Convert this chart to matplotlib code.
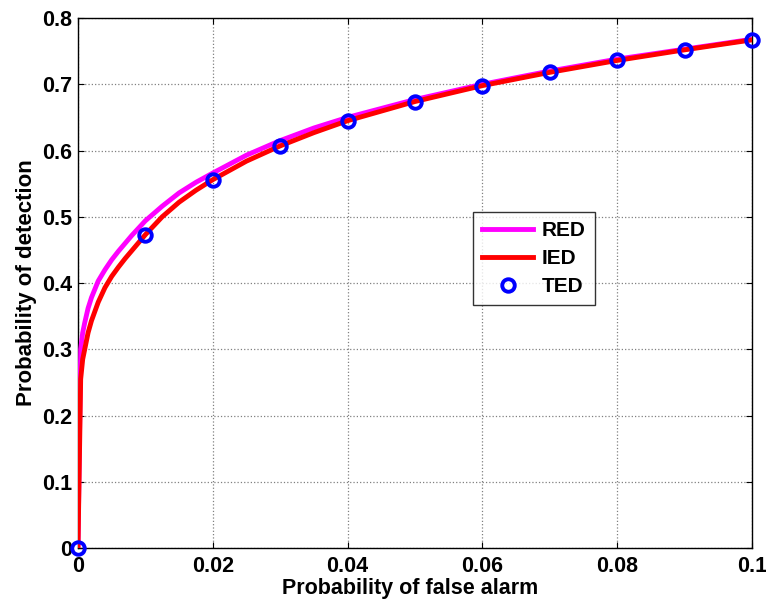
import matplotlib.pyplot as plt

# probability of false alarm
pfa = [0, 0.0004, 0.0007, 0.001, 0.0015, 0.002, 0.003, 0.004, 0.005, 0.006,
       0.007, 0.008, 0.01, 0.0125, 0.015, 0.0175, 0.02, 0.025, 0.03, 0.035,
       0.04, 0.05, 0.06, 0.07, 0.08, 0.09, 0.1]
# detection prob, RED and IED curves
pd_red = [0, 0.30, 0.325, 0.34, 0.362, 0.378, 0.403, 0.42, 0.435, 0.448,
          0.46, 0.472, 0.494, 0.516, 0.536, 0.552, 0.566, 0.593, 0.615, 0.634,
          0.650, 0.677, 0.700, 0.720, 0.738, 0.753, 0.768]
pd_ied = [0, 0.255, 0.285, 0.30, 0.325, 0.343, 0.371, 0.393, 0.41, 0.424,
          0.437, 0.449, 0.473, 0.50, 0.522, 0.54, 0.556, 0.584, 0.607, 0.627,
          0.645, 0.674, 0.698, 0.718, 0.736, 0.752, 0.767]
# TED markers
pfa_ted = [0, 0.01, 0.02, 0.03, 0.04, 0.05, 0.06, 0.07, 0.08, 0.09, 0.1]
pd_ted = [0, 0.473, 0.556, 0.607, 0.645, 0.674, 0.698, 0.718, 0.736, 0.752, 0.767]

plt.rcParams['font.family'] = ['Liberation Sans', 'DejaVu Sans']
plt.rcParams['font.weight'] = 'bold'

fig = plt.figure(figsize=(7.66, 6.05), dpi=100)
ax = fig.add_axes([0.1018, 0.0942, 0.88, 0.876])

ax.plot(pfa, pd_red, color='#ff00ff', lw=3.5, label='RED', zorder=3)
ax.plot(pfa, pd_ied, color='#ff0000', lw=3.5, label='IED', zorder=4)
ax.plot(pfa_ted, pd_ted, 'o', ms=9, mfc='none', mec='#0000ff', mew=2.8,
        label='TED', zorder=5, clip_on=False)

ax.set_xlim(0, 0.1)
ax.set_ylim(0, 0.8)
ax.set_xticks([0, 0.02, 0.04, 0.06, 0.08, 0.1])
ax.set_xticklabels(['0', '0.02', '0.04', '0.06', '0.08', '0.1'])
ax.set_yticks([i / 10 for i in range(9)])
ax.set_yticklabels(['0', '0.1', '0.2', '0.3', '0.4', '0.5', '0.6', '0.7', '0.8'])

ax.grid(True, color='#808080', linestyle=':', linewidth=0.9)
ax.tick_params(direction='in', length=4, top=True, right=True,
               labelsize=15.5, width=0.8)
ax.tick_params(axis='x', pad=6)
ax.tick_params(axis='y', pad=4)
for s in ax.spines.values():
    s.set_linewidth(1.0)

ax.set_xlabel('Probability of false alarm', fontsize=15.5, fontweight='bold')
ax.set_ylabel('Probability of detection', fontsize=16, fontweight='bold', labelpad=4)
ax.xaxis.set_label_coords(0.492, -0.056, transform=ax.transAxes)
ax.xaxis.label.set_va('top')

leg = ax.legend(loc='upper left', bbox_to_anchor=(0.586, 0.634), fontsize=15,
                frameon=True, fancybox=False, edgecolor='black',
                handlelength=2.45, borderpad=0.45, labelspacing=0.42,
                handletextpad=0.4, borderaxespad=0)
leg.get_frame().set_linewidth(1.0)

fig.savefig('out.png', dpi=100)
